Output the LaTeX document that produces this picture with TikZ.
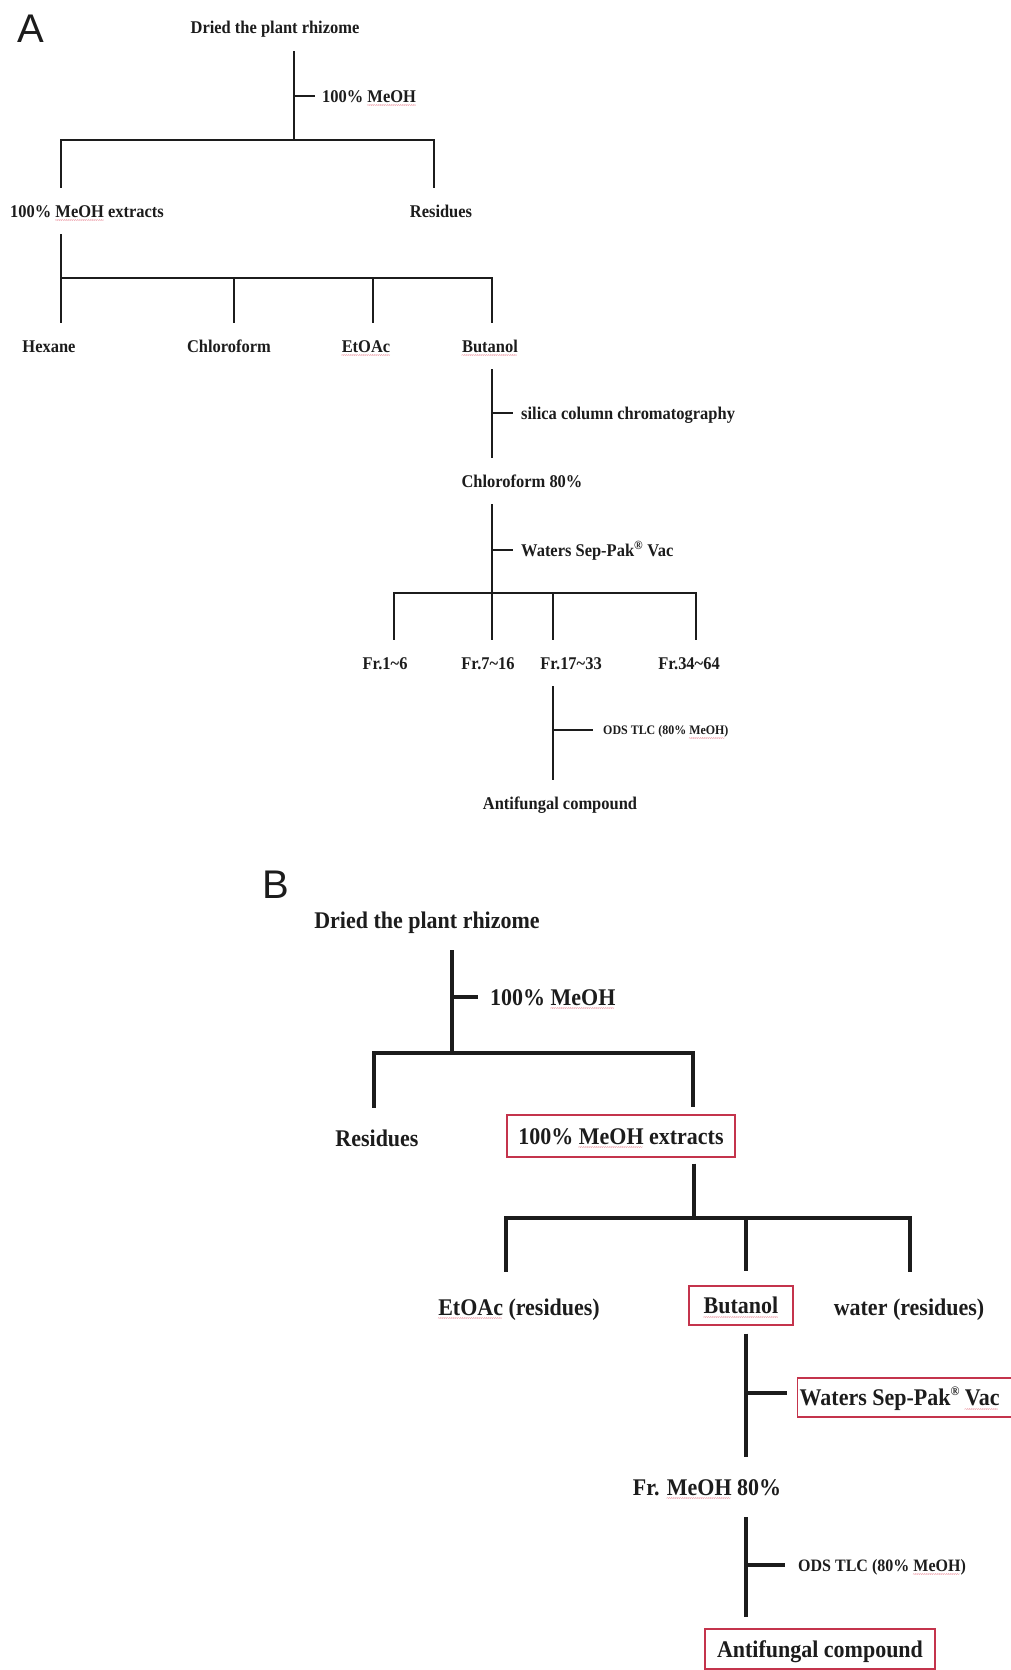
\documentclass[tikz,border=0pt]{standalone}
\usepackage{fontspec}
\setmainfont{Liberation Serif}[FakeStretch=0.92]
\newfontfamily\panelfont{Liberation Sans}
\usetikzlibrary{positioning}

\definecolor{boxred}{RGB}{196,52,76}
\definecolor{spellred}{RGB}{220,70,90}
\definecolor{inkgray}{RGB}{28,28,28}

% wavy spell-check underline
\newsavebox\spbox
\newcommand\spw[1]{\sbox\spbox{#1}\rlap{\raisebox{-5.5pt}[0pt][0pt]{\textcolor{spellred}{\hbox to \wd\spbox{\leaders\hbox{\fontsize{6}{6}\selectfont\mdseries\kern-0.4pt\textasciitilde\kern-0.4pt}\hfil}}}}\usebox\spbox}
\newcommand\regsup{\raisebox{0.42em}{\fontsize{13}{13}\selectfont\textregistered}}

\begin{document}
\begin{tikzpicture}
    [
        x=1pt, y=-1pt, color=inkgray,
        panel/.style={font=\panelfont\fontsize{40}{44}\selectfont, inner sep=0pt, anchor=base west},
        nA/.style={font=\fontsize{17.9}{20}\selectfont\bfseries, inner sep=0pt, text height=12pt, text depth=0pt, minimum height=46pt},
        nAs/.style={nA, font=\fontsize{13}{15}\selectfont\bfseries, text height=9pt},
        nB/.style={font=\fontsize{23.9}{28}\selectfont\bfseries, inner sep=0pt, text height=16pt, text depth=0pt, minimum height=60pt},
        nBs/.style={nB, font=\fontsize{17.4}{20}\selectfont\bfseries, text height=12pt, minimum height=40pt},
        boxB/.style={nB, color=boxred, draw=boxred, line width=1.4pt, minimum height=42pt, inner xsep=11pt},
        tA/.style={line width=2.6pt},
        tB/.style={line width=3.4pt},
    ]
        \useasboundingbox (0,0) rectangle (1011,1670);

        % ---- panel A ----
        \node[panel] (pA) at (17,43) {A};
        \node[nA] (dA) at (275,28) {Dried the plant rhizome};
        \coordinate (jA0) at (294,140);
        \coordinate (tkA0) at (294,96);
        \node[nA, right=28pt of tkA0] (mA0) {100\% \spw{MeOH}};
        \node[nA] (extA) at (87,211) {100\% \spw{MeOH} extracts};
        \node[nA] (resA) at (441,211) {Residues};
        \coordinate (kA1) at (61,140);
        \coordinate (kA2) at (434,140);
        \draw[tA] (jA0 |- dA.south) -- (jA0);
        \draw[tA, shorten >=7pt] (tkA0) -- (mA0);
        \draw[tA] (kA1 |- extA.north) -- (kA1) -- (kA2) -- (kA2 |- resA.north);

        \node[nA] (hexA) at (49,346) {Hexane};
        \node[nA] (chlA) at (229,346) {Chloroform};
        \node[nA] (etoA) at (366,346) {\spw{EtOAc}};
        \node[nA] (butA) at (490,346) {\spw{Butanol}};
        \coordinate (kB1) at (61,278);
        \coordinate (kB2) at (234,278);
        \coordinate (kB3) at (373,278);
        \coordinate (kB4) at (492,278);
        \draw[tA] (kB1 |- extA.south) -- (kB1);
        \draw[tA] (kB1 |- hexA.north) -- (kB1) -- (kB4) -- (kB4 |- butA.north);
        \draw[tA] (kB2) -- (kB2 |- chlA.north);
        \draw[tA] (kB3) -- (kB3 |- etoA.north);

        \node[nA] (c80A) at (522,481) {Chloroform 80\%};
        \coordinate (tkA1) at (492,413);
        \node[nA, right=29pt of tkA1] (silA) {silica column chromatography};
        \draw[tA] (kB4 |- butA.south) -- (kB4 |- c80A.north);
        \draw[tA, shorten >=8pt] (tkA1) -- (silA);

        \coordinate (kC1) at (394,593);
        \coordinate (kC2) at (492,593);
        \coordinate (kC3) at (553,593);
        \coordinate (kC4) at (696,593);
        \coordinate (tkA2) at (492,550);
        \node[nA, right=29pt of tkA2] (watA) {Waters Sep-Pak\textsuperscript{\textregistered} Vac};
        \node[nA] (fr1A) at (385,663) {Fr.1\textasciitilde6};
        \node[nA] (fr2A) at (488,663) {Fr.7\textasciitilde16};
        \node[nA] (fr3A) at (571,663) {Fr.17\textasciitilde33};
        \node[nA] (fr4A) at (689,663) {Fr.34\textasciitilde64};
        \draw[tA] (kC2 |- c80A.south) -- (kC2);
        \draw[tA, shorten >=8pt] (tkA2) -- (watA);
        \draw[tA] (kC1 |- fr1A.north) -- (kC1) -- (kC4) -- (kC4 |- fr4A.north);
        \draw[tA] (kC2) -- (kC2 |- fr2A.north);
        \draw[tA] (kC3) -- (kC3 |- fr3A.north);

        \coordinate (tkA3) at (553,730);
        \node[nAs, right=50pt of tkA3] (odsA) {ODS TLC (80\% \spw{MeOH})};
        \node[nA] (antA) at (560,803) {Antifungal compound};
        \draw[tA] (kC3 |- fr3A.south) -- (kC3 |- antA.north);
        \draw[tA, shorten >=10pt] (tkA3) -- (odsA);

        % ---- panel B ----
        \node[panel] (pB) at (262,898) {B};
        \node[nB] (dB) at (427,920) {Dried the plant rhizome};
        \coordinate (jB0) at (452,1053);
        \coordinate (tkB0) at (452,997);
        \node[nB, right=38pt of tkB0] (mB0) {100\% \spw{MeOH}};
        \node[nB] (resB) at (377,1138) {Residues};
        \node[boxB, minimum width=228pt] (extB) at (621,1136) {\textcolor{inkgray}{100\% \spw{MeOH} extracts}};
        \coordinate (kD1) at (374,1053);
        \coordinate (kD2) at (693,1053);
        \draw[tB] (jB0 |- dB.south) -- (jB0);
        \draw[tB, shorten >=12pt] (tkB0) -- (mB0);
        \draw[tB, shorten >=7pt] (kD1 |- resB.north) -- (kD1) -- (kD2) -- (kD2 |- extB.north);

        \coordinate (jB1) at (694,1218);
        \coordinate (kE1) at (506,1218);
        \coordinate (kE2) at (746,1218);
        \coordinate (kE3) at (910,1218);
        \node[nB] (etoB) at (519,1307) {\spw{EtOAc} (residues)};
        \node[boxB, minimum width=104pt, minimum height=39pt, inner xsep=0pt] (butB) at (741,1305.5) {\textcolor{inkgray}{\spw{Butanol}}};
        \node[nB] (watB) at (909,1307) {water (residues)};
        \draw[tB, shorten <=6pt] (jB1 |- extB.south) -- (jB1);
        \draw[tB, shorten <=5pt, shorten >=5pt] (etoB.north -| kE1) -- (kE1) -- (kE3) -- (kE3 |- watB.north);
        \draw[tB, shorten >=14pt] (kE2) -- (kE2 |- butB.north);

        \node[nB] (f80B) at (707,1487) {Fr. \spw{MeOH} 80\%};
        \coordinate (tkB1) at (746,1393);
        \node[boxB, inner xsep=2pt, minimum height=39pt, anchor=west] (sepB) at (797,1397.5) {\makebox[214pt][l]{\textcolor{inkgray}{Waters Sep-Pak\regsup{} \spw{Vac}}}};
        \draw[tB, shorten <=8pt] (kE2 |- butB.south) -- (kE2 |- f80B.north);
        \draw[tB, line width=4.2pt, shorten >=10pt] (tkB1) -- (tkB1 -| sepB.west);

        \coordinate (tkB2) at (746,1565);
        \node[nBs, right=52pt of tkB2] (odsB) {ODS TLC (80\% \spw{MeOH})};
        \node[boxB, minimum width=230pt, minimum height=40pt, inner xsep=0pt] (antB) at (820,1649) {\textcolor{inkgray}{Antifungal compound}};
        \draw[tB, shorten >=11pt] (kE2 |- f80B.south) -- (kE2 |- antB.north);
        \draw[tB, shorten >=13pt] (tkB2) -- (odsB);
    \end{tikzpicture}
\end{document}
